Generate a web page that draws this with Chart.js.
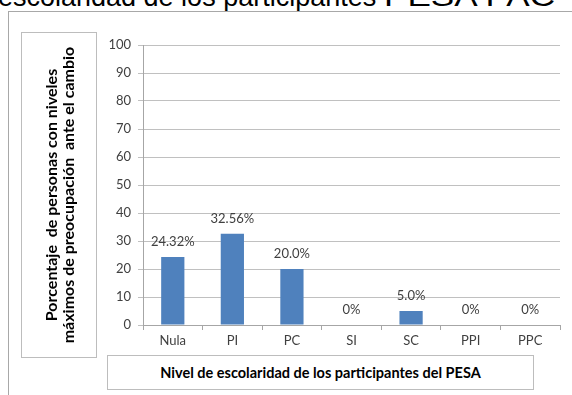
<!DOCTYPE html>
<html>
<head>
<meta charset="utf-8">
<script src="https://cdn.jsdelivr.net/npm/chart.js@4/dist/chart.umd.min.js"></script>
<style>
    html, body { margin: 0; padding: 0; background: #fff; }
    #wrap { position: relative; width: 572px; height: 395px; overflow: hidden; }
    #chart { position: absolute; left: 0; top: 0; }
    .caption {
        position: absolute; left: -2px; top: -18px; white-space: nowrap;
        font-family: "Liberation Sans", Arial, sans-serif; font-size: 27px; color: #000;
    }
    .caption span { display: inline-block; transform: scaleX(1.3); transform-origin: left center; }
    .frame { position: absolute; left: 8px; top: 11px; width: 700px; height: 500px; border: 1px solid #a8a8a8; }
    .box { position: absolute; border: 1px solid #bdbdbd; background: #fff; }
    .ytitle {
        position: absolute; left: 50%; top: 50%; width: 330px;
        transform: translate(-50%, -50%) rotate(-90deg);
        text-align: center; font-family: Lato, "Open Sans", sans-serif;
        font-weight: bold; font-size: 16px; line-height: 17px; color: #000;
    }
    .xtitle {
        font-family: Lato, "Open Sans", sans-serif; font-weight: bold; font-size: 14.5px;
        color: #000; text-align: center; line-height: 33px;
    }
</style>
</head>
<body>
<div id="wrap">
    <div class="caption">escolaridad de los participantes <span>PESA PAC</span></div>
    <div class="frame"></div>
    <canvas id="chart" width="572" height="395"></canvas>
    <div class="box" style="left:21px; top:32px; width:74px; height:324px;">
        <div class="ytitle">Porcentaje&nbsp; de personas con niveles<br>máximos de preocupación&nbsp; ante el cambio</div>
    </div>
    <div class="box xtitle" style="left:107px; top:355px; width:425px; height:33px;">Nivel de escolaridad de los participantes del PESA</div>
</div>
<script>
// Nivel de escolaridad vs. porcentaje con preocupación máxima
const categories = ['Nula', 'PI', 'PC', 'SI', 'SC', 'PPI', 'PPC'];
const percentages = [24.32, 32.56, 20.0, 0, 5.0, 0, 0];
const decimals = [2, 2, 1, 0, 1, 0, 0];
const yTicks = [0, 10, 20, 30, 40, 50, 60, 70, 80, 90, 100];

const labelFont = '13px Lato, "Open Sans", sans-serif';

// value labels above each bar
const barLabels = {
    id: 'barLabels',
    afterDatasetsDraw(chart) {
        const ctx = chart.ctx;
        const meta = chart.getDatasetMeta(0);
        ctx.save();
        ctx.font = labelFont;
        ctx.fillStyle = '#404040';
        ctx.textAlign = 'center';
        ctx.textBaseline = 'middle';
        meta.data.forEach((bar, i) => {
            const text = percentages[i].toFixed(decimals[i]) + '%';
            ctx.fillText(text, bar.x, bar.y - 15);
        });
        ctx.restore();
    }
};

new Chart(document.getElementById('chart'), {
    type: 'bar',
    data: {
        labels: categories,
        datasets: [{
            data: percentages,
            backgroundColor: '#4f81bd',
            borderWidth: 0,
            categoryPercentage: 1,
            barPercentage: 0.39
        }]
    },
    options: {
        responsive: false,
        animation: false,
        layout: { padding: { left: 100, right: 12, top: 45, bottom: 45 } },
        plugins: {
            legend: { display: false },
            tooltip: { enabled: false }
        },
        scales: {
            x: {
                offset: true,
                afterFit: (scale) => { scale.height = 25; },
                grid: { drawOnChartArea: false, offset: true, tickLength: 5, color: '#a6a6a6' },
                border: { color: '#a6a6a6' },
                ticks: { color: '#404040', font: { family: 'Lato, "Open Sans", sans-serif', size: 13 }, padding: 3 }
            },
            y: {
                min: 0,
                max: 100,
                afterFit: (scale) => { scale.width = 43; },
                afterBuildTicks: (scale) => { scale.ticks = yTicks.map(v => ({ value: v })); },
                grid: { color: '#c0c0c0', tickLength: 5 },
                border: { color: '#a6a6a6' },
                ticks: { color: '#404040', font: { family: 'Lato, "Open Sans", sans-serif', size: 13 }, padding: 7 }
            }
        }
    },
    plugins: [barLabels]
});
</script>
</body>
</html>
